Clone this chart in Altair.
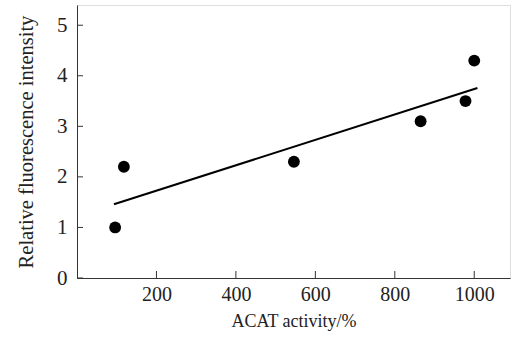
import altair as alt
import pandas as pd

acat = [96, 118, 546, 865, 978, 1000]
fluor = [1.0, 2.2, 2.3, 3.1, 3.5, 4.3]
x_ticks = [200, 400, 600, 800, 1000]
y_ticks = [0, 1, 2, 3, 4, 5]

df = pd.DataFrame({"x": acat, "y": fluor})
FONT = "Liberation Serif"

xs = alt.Scale(domain=[0, 1090], nice=False, zero=False)
ys = alt.Scale(domain=[0, 5.4], nice=False)

base = alt.Chart(df)

pts = base.mark_circle(size=140, color="black", opacity=1).encode(
    x=alt.X("x:Q", scale=xs, axis=alt.Axis(
        values=x_ticks, format="d", ticks=False, grid=False, title="ACAT activity/%",
        labelFont=FONT, titleFont=FONT, labelFontSize=20, titleFontSize=18,
        titleFontWeight="normal", labelColor="#222", titleColor="#222",
        domainColor="#333", labelPadding=6, titlePadding=8)),
    y=alt.Y("y:Q", scale=ys, axis=alt.Axis(
        values=y_ticks, ticks=False, grid=False, title="Relative fluorescence intensity",
        labelFont=FONT, titleFont=FONT, labelFontSize=21, titleFontSize=20.5,
        titleFontWeight="normal", labelColor="#222", titleColor="#222",
        domainColor="#333", labelPadding=10, titlePadding=20)),
)

line = base.transform_regression("x", "y", extent=[93, 1008]).mark_line(
    color="black", strokeWidth=2).encode(x=alt.X("x:Q", scale=xs), y=alt.Y("y:Q", scale=ys))

xt = alt.Chart(pd.DataFrame({"v": x_ticks})).mark_rule(color="#333").encode(
    x=alt.X("v:Q", scale=xs), y=alt.value(273), y2=alt.value(266))
yt = alt.Chart(pd.DataFrame({"v": y_ticks})).mark_rule(color="#333").encode(
    y=alt.Y("v:Q", scale=ys), x=alt.value(0), x2=alt.value(6))

chart = alt.layer(line, pts, xt, yt).properties(
    width=433, height=273,
    autosize=alt.AutoSizeParams(type="none"),
    padding={"left": 77, "top": 5, "right": 5, "bottom": 64},
).configure_view(stroke=None).configure(background="white")

chart.save("out.html", embed_options={"renderer": "svg", "actions": False})
